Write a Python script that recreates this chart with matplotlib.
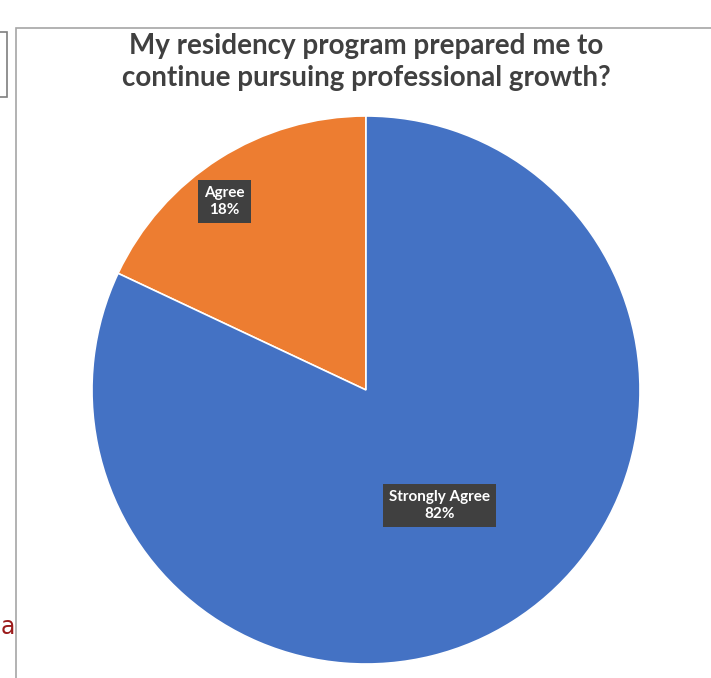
import matplotlib.pyplot as plt
import numpy as np
from matplotlib.patches import Rectangle

plt.rcParams['font.family'] = ['Lato', 'DejaVu Sans']

title = "My residency program prepared me to\ncontinue pursuing professional growth?"
categories = ["Agree", "Strongly Agree"]
shares = [18, 82]
colors = ["#ED7D31", "#4472C4"]
# where each label box sits inside its slice (fraction of sweep, fraction of radius)
label_angle = [0.57, 0.50]
label_dist = [0.86, 0.50]

fig = plt.figure(figsize=(7.11, 6.78), dpi=100)
ax = fig.add_axes([0, 0, 1, 1])

# chart frame and the bits of neighbouring page content
ax.add_patch(Rectangle((16, -10), 720, 660, fill=False, edgecolor="#A6A6A6", lw=1.2))
ax.add_patch(Rectangle((-5, 581), 12, 65, fill=False, edgecolor="#7F7F7F", lw=1.2))
ax.text(0.5, 44, "a", color="#9B1B1B", fontsize=17, va='baseline', ha='left',
        family=['DejaVu Sans'])

cx, cy, r = 366, 288, 274
wedges, _ = ax.pie(shares, colors=colors, startangle=90, counterclock=True,
                   center=(cx, cy), radius=r, frame=True,
                   wedgeprops=dict(edgecolor='white', linewidth=1.2))
ax.set_xlim(0, 711)
ax.set_ylim(0, 678)
ax.set_aspect('equal')
ax.axis('off')

for w, name, val, fa, d in zip(wedges, categories, shares, label_angle, label_dist):
    ang = np.deg2rad(w.theta1 + fa * (w.theta2 - w.theta1))
    x = cx + d * r * np.cos(ang)
    y = cy + d * r * np.sin(ang)
    ax.text(x, y, f"{name}\n{val}%", ha='center', va='center', color='white',
            fontsize=11, fontweight='bold', linespacing=1.3,
            bbox=dict(boxstyle='square,pad=0.4', facecolor='#404040', edgecolor='none'))

ax.text(366, 616, title, ha='center', va='center', fontsize=20, fontweight='bold',
        color='#404040', linespacing=1.3)

fig.savefig("out.png", dpi=100)
